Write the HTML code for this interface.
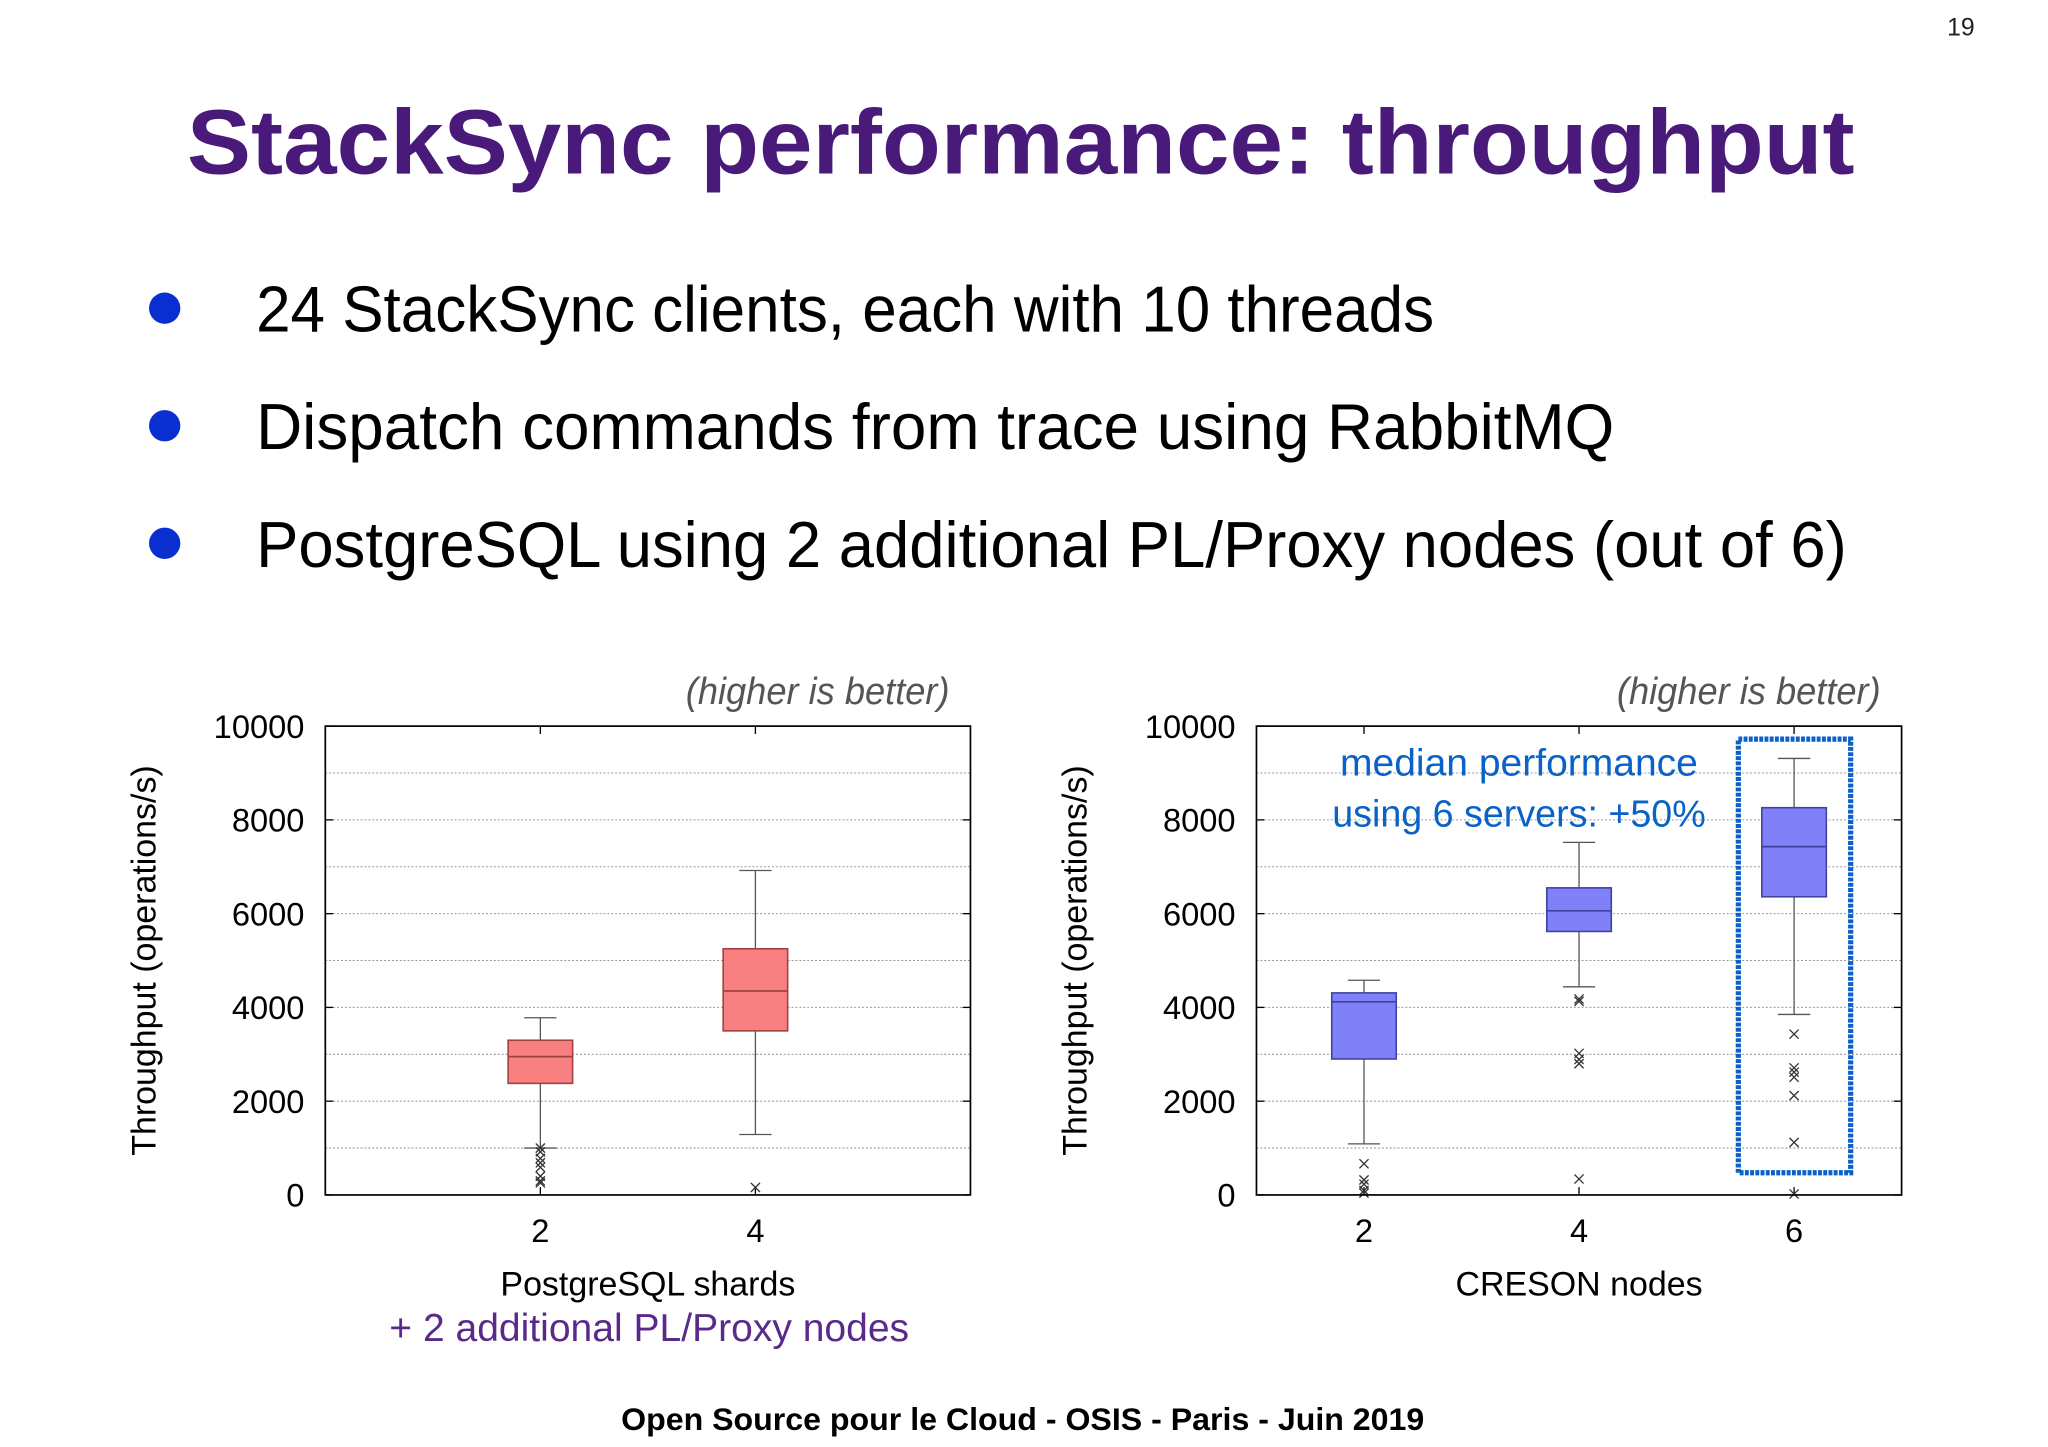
<!DOCTYPE html>
<html><head><meta charset="utf-8"><style>
html,body{margin:0;padding:0;background:#fff;}
svg{display:block;}
text{font-family:"Liberation Sans",sans-serif;}
</style></head><body>
<svg id="chart" width="2048" height="1447" viewBox="0 0 1568 1108" xmlns="http://www.w3.org/2000/svg">
<rect x="0" y="0" width="1568" height="1108" fill="#fff"/>
<text x="1512" y="27" font-size="19" text-anchor="end" fill="#222">19</text>
<text x="143" y="133" font-size="70" font-weight="bold" fill="#4a1a7a" textLength="1277" lengthAdjust="spacingAndGlyphs">StackSync performance: throughput</text>
<g>
<circle cx="126" cy="236" r="12" fill="#0a2fd0"/>
<text x="196" y="254" font-size="50" fill="#000" textLength="902" lengthAdjust="spacingAndGlyphs">24 StackSync clients, each with 10 threads</text>
<circle cx="126" cy="326" r="12" fill="#0a2fd0"/>
<text x="196" y="344" font-size="50" fill="#000" textLength="1040" lengthAdjust="spacingAndGlyphs">Dispatch commands from trace using RabbitMQ</text>
<circle cx="126" cy="416" r="12" fill="#0a2fd0"/>
<text x="196" y="434" font-size="50" fill="#000" textLength="1218" lengthAdjust="spacingAndGlyphs">PostgreSQL using 2 additional PL/Proxy nodes (out of 6)</text>
</g>
<g id="plots"></g>
<text x="783" y="1095" font-size="24" font-weight="bold" text-anchor="middle" fill="#000" textLength="615" lengthAdjust="spacingAndGlyphs">Open Source pour le Cloud - OSIS - Paris - Juin 2019</text>
</svg>
<script>
// Left chart data
const leftCategories = [2, 4];
const leftWhiskerLow = [1000, 1290];
const leftQ1 = [2380, 3500];
const leftMedian = [2950, 4350];
const leftQ3 = [3300, 5250];
const leftWhiskerHigh = [3780, 6920];
const leftOutliers = [[1000, 920, 780, 685, 590, 400, 300, 257], [160]];
// Right chart data
const rightCategories = [2, 4, 6];
const rightWhiskerLow = [1090, 4440, 3850];
const rightQ1 = [2900, 5620, 6360];
const rightMedian = [4120, 6060, 7430];
const rightQ3 = [4310, 6550, 8260];
const rightWhiskerHigh = [4580, 7520, 9310];
const rightOutliers = [[665, 320, 230, 95, 40], [4180, 4130, 3020, 2890, 2800, 340], [3430, 2710, 2620, 2510, 2120, 1120, 20]];
const yTicks = [0, 2000, 4000, 6000, 8000, 10000];
const yGrid = [1000, 2000, 3000, 4000, 5000, 6000, 7000, 8000, 9000];

const NS = 'http://www.w3.org/2000/svg';
const root = document.getElementById('plots');
function mk(tag, attrs, parent, txt) {
  const e = document.createElementNS(NS, tag);
  for (const k in attrs) e.setAttribute(k, attrs[k]);
  if (txt !== undefined) e.textContent = txt;
  parent.appendChild(e);
  return e;
}
function drawPlot(cfg) {
  const g = mk('g', {}, root);
  
  
  const L = cfg.left, R = cfg.right, T = 556, B = 915;
  const xs = v => L + (v - cfg.xmin) / (cfg.xmax - cfg.xmin) * (R - L);
  const ys = v => B - v / 10000 * (B - T);
  yGrid.forEach(v => {
    const l = mk('line', {x1: L, x2: R, y1: ys(v), y2: ys(v), stroke: '#999', 'stroke-width': 0.8, 'stroke-dasharray': '1.5,1.5'}, g);
    
    
  });
  yTicks.forEach(v => {
    const t = mk('text', {x: L - 16, y: ys(v) + 9, 'font-size': 25, 'text-anchor': 'end', fill: '#000'}, g, String(v));
    
    
    mk('line', {x1: L, x2: L + 6, y1: ys(v), y2: ys(v), stroke: '#000'}, g);
    mk('line', {x1: R, x2: R - 6, y1: ys(v), y2: ys(v), stroke: '#000'}, g);
  });
  cfg.cats.forEach((c, i) => {
    const t = mk('text', {x: xs(c), y: 951, 'font-size': 25, 'text-anchor': 'middle', fill: '#000'}, g, String(c));
    
    
    mk('line', {x1: xs(c), x2: xs(c), y1: B, y2: B - 6, stroke: '#000'}, g);
    mk('line', {x1: xs(c), x2: xs(c), y1: T, y2: T + 6, stroke: '#000'}, g);
    const bg = mk('g', {}, g);
    
    
    const cx = xs(c), hw = 0.3 * (R - L) / (cfg.xmax - cfg.xmin);
    mk('line', {x1: cx, x2: cx, y1: ys(cfg.wh[i]), y2: ys(cfg.q3[i]), stroke: '#555', 'stroke-width': 1}, bg);
    mk('line', {x1: cx, x2: cx, y1: ys(cfg.q1[i]), y2: ys(cfg.wl[i]), stroke: '#555', 'stroke-width': 1}, bg);
    mk('line', {x1: cx - hw / 2, x2: cx + hw / 2, y1: ys(cfg.wh[i]), y2: ys(cfg.wh[i]), stroke: '#555'}, bg);
    mk('line', {x1: cx - hw / 2, x2: cx + hw / 2, y1: ys(cfg.wl[i]), y2: ys(cfg.wl[i]), stroke: '#555'}, bg);
    mk('rect', {x: cx - hw, y: ys(cfg.q3[i]), width: 2 * hw, height: ys(cfg.q1[i]) - ys(cfg.q3[i]), fill: cfg.fill, stroke: cfg.stroke, 'stroke-width': 1.2}, bg);
    mk('line', {x1: cx - hw, x2: cx + hw, y1: ys(cfg.med[i]), y2: ys(cfg.med[i]), stroke: cfg.stroke, 'stroke-width': 1.3}, bg);
    cfg.out[i].forEach(v => {
      const o = mk('path', {d: `M${cx-3.5},${ys(v)-3.5}L${cx+3.5},${ys(v)+3.5}M${cx-3.5},${ys(v)+3.5}L${cx+3.5},${ys(v)-3.5}`, stroke: '#333', 'stroke-width': 1}, bg);
      
      
    });
  });
  const f = mk('rect', {x: L, y: T, width: R - L, height: B - T, fill: 'none', stroke: '#000', 'stroke-width': 1.3}, g);
  
  
  const yt = mk('text', {x: 0, y: 0, transform: `translate(${L - 130},${(T + B) / 2}) rotate(-90)`, 'font-size': 26, 'text-anchor': 'middle', fill: '#000'}, g, 'Throughput (operations/s)');
  
  
  const xt = mk('text', {x: (L + R) / 2, y: 992, 'font-size': 26, 'text-anchor': 'middle', fill: '#000'}, g, cfg.xlabel);
  
  
  const hb = mk('text', {x: R - 16, y: 539, 'font-size': 29, 'font-style': 'italic', 'text-anchor': 'end', fill: '#555', textLength: 202, lengthAdjust: 'spacingAndGlyphs'}, g, '(higher is better)');
  
  
  return {xs, ys};
}
drawPlot({name: 'postgresql-boxplot', left: 249, right: 743, xmin: 0, xmax: 6, cats: leftCategories, wl: leftWhiskerLow, q1: leftQ1, med: leftMedian, q3: leftQ3, wh: leftWhiskerHigh, out: leftOutliers, fill: '#f88080', stroke: '#a04040', xlabel: 'PostgreSQL shards'});
drawPlot({name: 'creson-boxplot', left: 962, right: 1456, xmin: 1, xmax: 7, cats: rightCategories, wl: rightWhiskerLow, q1: rightQ1, med: rightMedian, q3: rightQ3, wh: rightWhiskerHigh, out: rightOutliers, fill: '#8080f8', stroke: '#4040a0', xlabel: 'CRESON nodes'});

const svg = document.getElementById('chart');
const sub = mk('text', {x: 497, y: 1027, 'font-size': 30, 'text-anchor': 'middle', fill: '#5a2a8a', textLength: 398, lengthAdjust: 'spacingAndGlyphs'}, svg, '+ 2 additional PL/Proxy nodes');


const a1 = mk('text', {x: 1163, y: 594, 'font-size': 29, 'text-anchor': 'middle', fill: '#0a62c8', textLength: 274, lengthAdjust: 'spacingAndGlyphs'}, svg, 'median performance');


const a2 = mk('text', {x: 1163, y: 633, 'font-size': 29, 'text-anchor': 'middle', fill: '#0a62c8', textLength: 286, lengthAdjust: 'spacingAndGlyphs'}, svg, 'using 6 servers: +50%');


const hl = mk('rect', {x: 1331, y: 566, width: 86, height: 332, fill: 'none', stroke: '#0a62c8', 'stroke-width': 4, 'stroke-dasharray': '3,1'}, svg);


</script>
</body></html>
